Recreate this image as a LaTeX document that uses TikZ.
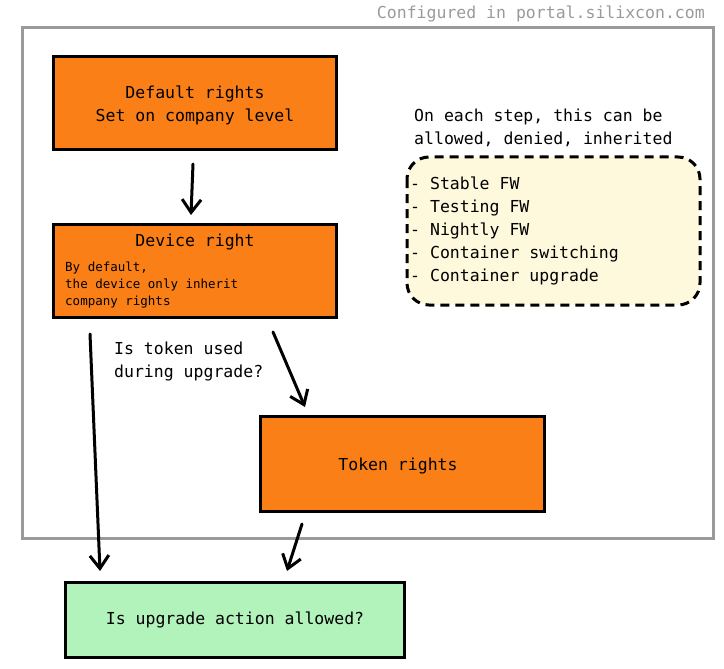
\documentclass[tikz,border=0pt]{standalone}
\usepackage{fontspec}
\setmainfont{DejaVu Sans Mono}
\usetikzlibrary{arrows.meta}
\definecolor{orangebox}{HTML}{FA7F17}
\definecolor{greenbox}{HTML}{B2F2BB}
\definecolor{notefill}{HTML}{FEF8DD}
\definecolor{framegray}{HTML}{9A9A9A}
\tikzset{
  x=1pt,y=-1pt,
  base/.style={font=\fontsize{16.5}{23}\selectfont},
  orangenode/.style={draw=black,line width=3pt,fill=orangebox,inner sep=0pt},
  greennode/.style={draw=black,line width=3pt,fill=greenbox,inner sep=0pt},
  txt/.style={base,inner sep=0pt,align=left},
  small/.style={font=\fontsize{12.5}{17}\selectfont,inner sep=0pt,align=left},
  flow/.style={line width=3pt,-{Straight Barb[length=13pt,width=19pt,line width=3pt]},line cap=round},
}
\begin{document}
\begin{tikzpicture}
\useasboundingbox (0,0) rectangle (724,669);
% frame
\draw[framegray,line width=3pt] (22,28) rectangle (713,538);
\node[txt,text=framegray,anchor=base east] (cfg) at (705,19) {Configured in portal.silixcon.com};
% boxes
\node[orangenode,minimum width=283pt,minimum height=93pt,anchor=north west] (def) at (52,55) {};
\node[txt,align=center] (deft) at (195,105) {Default rights\\Set on company level};
\node[orangenode,minimum width=283pt,minimum height=93pt,anchor=north west] (dev) at (52,223) {};
\node[txt,anchor=base] (devt) at (195,246) {Device right};
\node[small,anchor=north west] (devs) at (65,262) {By default,\\the device only inherit\\company rights};
\node[orangenode,minimum width=284pt,minimum height=95pt,anchor=north west] (tok) at (259,415) {};
\node[txt] (tokt) at (398,466) {Token rights};
\node[greennode,minimum width=339pt,minimum height=75pt,anchor=north west] (res) at (64,581) {};
\node[txt] (rest) at (235,620) {Is upgrade action allowed?};
% question label
\node[txt,anchor=north west] (q) at (114,342) {Is token used\\during upgrade?};
% note
\node[txt,anchor=north west] (notet) at (414,109) {On each step, this can be\\allowed, denied, inherited};
\draw[line width=3pt,dash pattern=on 9pt off 6pt,fill=notefill,rounded corners=22pt] (407,157) rectangle (700,305);
\node[txt,anchor=north west] (items) at (410,177) {- Stable FW\\- Testing FW\\- Nightly FW\\- Container switching\\- Container upgrade};
% connectors
\draw[flow] ([shift={(-2,13)}]def.south) -- ([shift={(-4,-8)}]dev.north);
\draw[flow] ([shift={(38,15)}]dev.south west) -- ([shift={(36,-10)}]res.north west);
\draw[flow] ([shift={(78,13)}]dev.south) -- ([shift={(46,-8)}]tok.north west);
\draw[flow] ([shift={(43,11)}]tok.south west) -- ([shift={(223,-10)}]res.north west);
\end{tikzpicture}
\end{document}
